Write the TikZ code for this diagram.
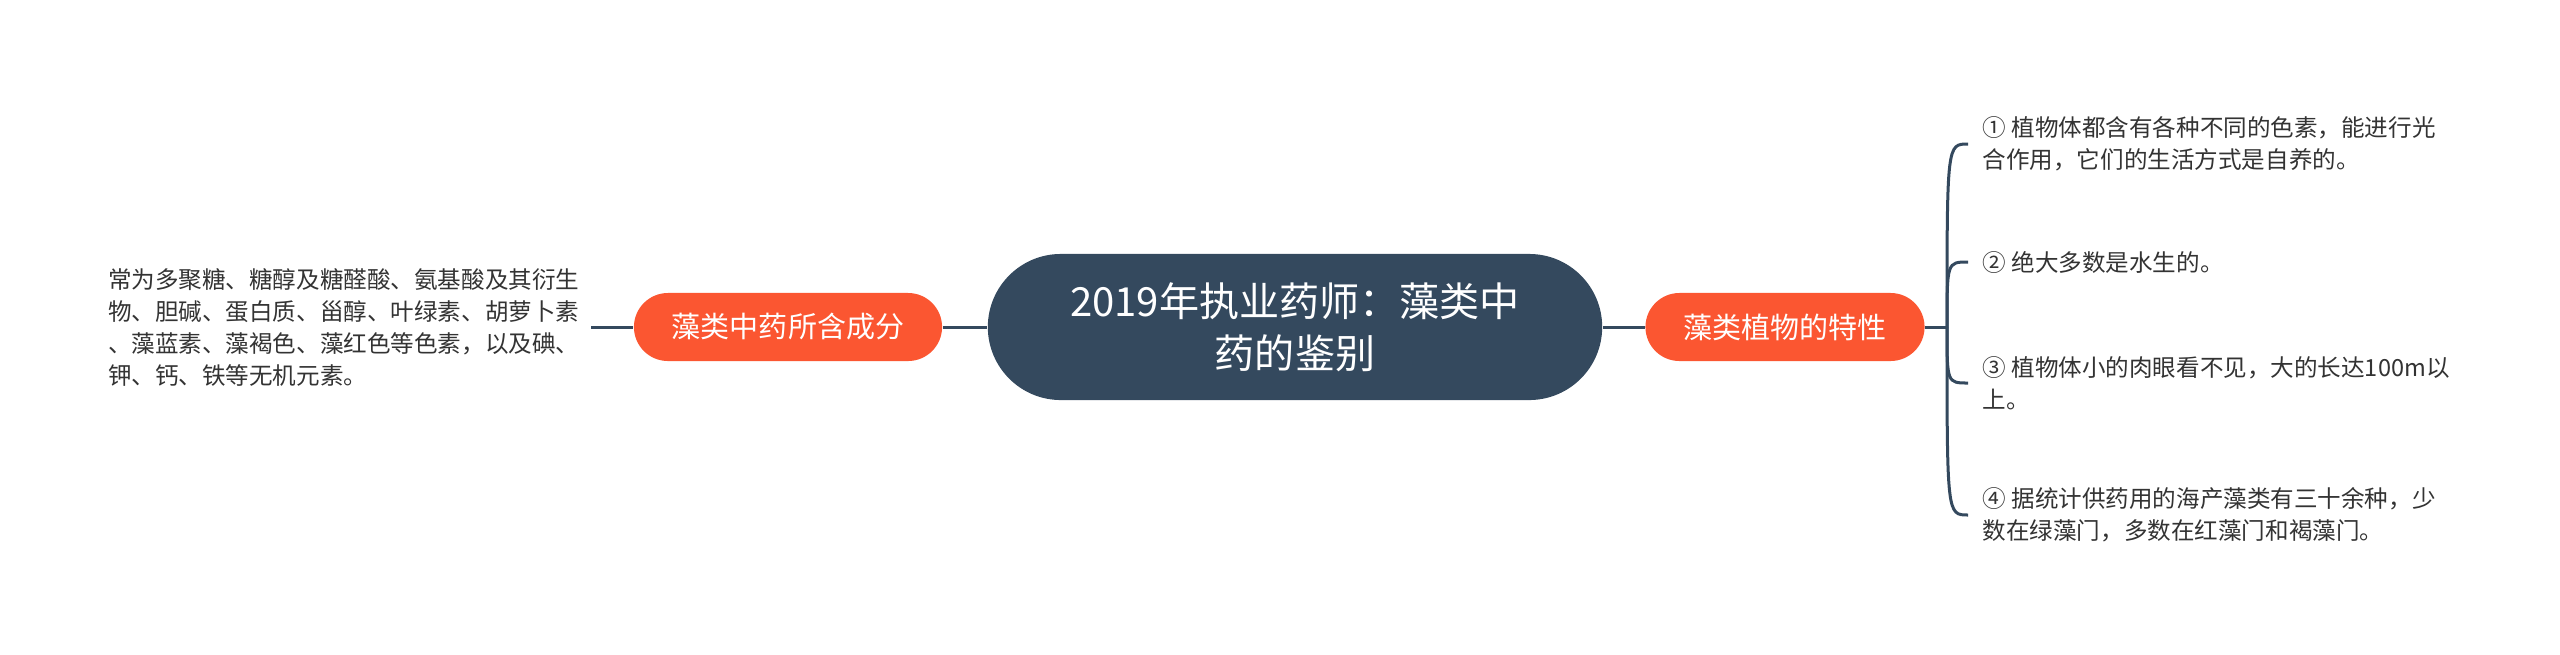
\documentclass[tikz,border=0pt]{standalone}
\usepackage{fontspec}
\setmainfont{Noto Sans CJK SC}
\usepackage{tikz}

\definecolor{slate}{HTML}{34495E}
\definecolor{tangerine}{HTML}{FB5631}

\begin{document}
\begin{tikzpicture}[x=0.01cm, y=-0.01cm,
  every node/.style = {font=\fontsize{6.7}{9.1}\selectfont, text=black!80},
  link/.style = {draw=slate, line width=0.03cm},
  central/.style = {shape=rectangle, rounded corners=0.73cm,
    fill=slate, text=white, align=center,
    minimum width=6.14cm, minimum height=1.46cm,
    font=\fontsize{11.4}{14.8}\selectfont},
  branch/.style = {shape=rectangle, rounded corners=0.34cm,
    fill=tangerine, text=white, minimum height=0.68cm, inner xsep=0.38cm,
    font=\fontsize{8.25}{10}\selectfont},
  leaf/.style = {align=left, inner xsep=0.14cm, inner ysep=0pt}]
  \useasboundingbox (0,0) rectangle (2560,654);
  \node[central] (title) at (1295,327) {2019年执业药师：藻类中\\药的鉴别};
  \node[branch] (lefttopic) at (788,327) {藻类中药所含成分};
  \node[branch] (righttopic) at (1785,327) {藻类植物的特性};
  \node[leaf, anchor=east, inner xsep=0.11cm] (leftnote) at (591,327)
    {常为多聚糖、糖醇及糖醛酸、氨基酸及其衍生\\物、胆碱、蛋白质、甾醇、叶绿素、胡萝卜素\\、藻蓝素、藻褐色、藻红色等色素，以及碘、\\钾、钙、铁等无机元素。};
  \coordinate (fork) at (1947,327);
  \node[leaf, anchor=west] (fact1) at (1968,144)
    {① 植物体都含有各种不同的色素，能进行光\\合作用，它们的生活方式是自养的。};
  \node[leaf, anchor=west] (fact2) at (1968,262) {② 绝大多数是水生的。};
  \node[leaf, anchor=west] (fact3) at (1968,383)
    {③ 植物体小的肉眼看不见，大的长达100m以\\上。};
  \node[leaf, anchor=west] (fact4) at (1968,515)
    {④ 据统计供药用的海产藻类有三十余种，少\\数在绿藻门，多数在红藻门和褐藻门。};
  \draw[link] (title.west) -- (lefttopic.east);
  \draw[link] (lefttopic.west) -- (leftnote.east);
  \draw[link] (title.east) -- (righttopic.west);
  \draw[link] (righttopic.east) -- (fork);
  \foreach \f in {fact1,fact2,fact3,fact4}
    \draw[link] (fork) .. controls (fork |- \f.west) .. (\f.west);
\end{tikzpicture}
\end{document}
